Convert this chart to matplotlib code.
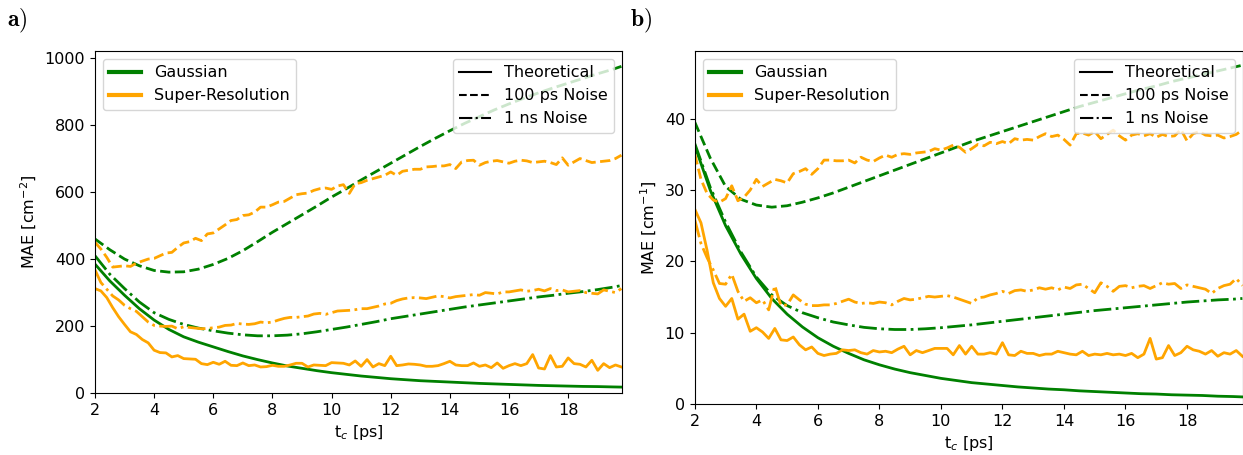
import numpy as np
import matplotlib.pyplot as plt
from matplotlib.lines import Line2D

plt.rcParams['mathtext.fontset'] = 'dejavusans'

# smooth (Gaussian) curves, read on a 0.5 ps grid
t_g = [2.0, 2.5, 3.0, 3.5, 4.0, 4.5, 5.0, 5.5, 6.0, 6.5, 7.0, 7.5, 8.0, 8.5, 9.0, 9.5,
       10.0, 10.5, 11.0, 11.5, 12.0, 12.5, 13.0, 13.5, 14.0, 14.5, 15.0, 15.5, 16.0,
       16.5, 17.0, 17.5, 18.0, 18.5, 19.0, 19.5, 19.8]

# noisy (Super-Resolution) curves, read on a 0.2 ps grid
t_sr = np.round(np.arange(2.0, 19.81, 0.2), 1)

# ---- panel a) ----
a_gauss_theo = [385, 335, 292, 252, 218, 190, 168, 152, 138, 124, 111, 100, 90, 81, 74, 67,
                61, 56, 51, 47, 43, 40, 37, 35, 33, 31, 29, 27.5, 26, 24.5, 23, 22, 21, 20,
                19.5, 18.5, 18]
a_gauss_100ps = [460, 428, 400, 380, 366, 361, 362, 370, 384, 402, 425, 452, 480, 506, 532, 558,
                 585, 610, 636, 661, 686, 711, 736, 760, 783, 805, 825, 845, 863, 880, 896,
                 911, 925, 939, 953, 966, 975]
a_gauss_1ns = [410, 355, 312, 272, 240, 220, 205, 194, 186, 179, 174, 171, 171, 173, 177, 183,
               190, 197, 205, 213, 222, 229, 236, 243, 250, 257, 263, 269, 275, 281, 287,
               292, 298, 303, 309, 316, 321]

a_sr_theo = [312, 305, 285, 255, 228, 205, 183, 175, 160, 150,
             128, 121, 120, 108, 112, 103, 102, 101, 88, 85,
             92, 86, 95, 83, 82, 90, 82, 84, 78, 79,
             83, 80, 80, 84, 89, 89, 78, 84, 83, 82,
             91, 90, 89, 84, 96, 80, 100, 78, 88, 82,
             110, 82, 84, 87, 86, 84, 80, 80, 82, 88,
             95, 84, 82, 82, 90, 80, 84, 76, 90, 74,
             82, 88, 82, 88, 115, 75, 72, 112, 78, 80,
             105, 88, 86, 78, 98, 68, 88, 76, 84, 78]
a_sr_100ps = [450, 430, 405, 376, 378, 380, 378, 388, 394, 400,
              402, 410, 418, 420, 435, 448, 452, 462, 455, 475,
              478, 490, 502, 515, 518, 530, 532, 540, 555, 555,
              562, 570, 572, 582, 592, 595, 597, 605, 610, 612,
              608, 618, 622, 596, 625, 628, 635, 640, 645, 650,
              660, 650, 662, 665, 668, 668, 675, 676, 678, 678,
              682, 670, 690, 694, 695, 680, 688, 692, 694, 690,
              686, 692, 695, 693, 688, 690, 692, 688, 682, 702,
              680, 690, 700, 694, 688, 690, 692, 694, 700, 710]
a_sr_1ns = [368, 330, 310, 290, 278, 262, 252, 244, 228, 212,
            202, 200, 199, 200, 192, 198, 196, 194, 192, 193,
            195, 197, 202, 203, 208, 206, 205, 207, 212, 210,
            212, 218, 223, 226, 226, 228, 230, 236, 238, 235,
            240, 245, 246, 247, 249, 252, 252, 256, 260, 266,
            268, 276, 281, 284, 285, 284, 282, 286, 290, 288,
            284, 288, 290, 292, 294, 292, 300, 298, 296, 302,
            302, 305, 308, 304, 306, 310, 305, 312, 306, 308,
            302, 304, 306, 300, 298, 296, 308, 304, 300, 312]

# ---- panel b) ----
b_gauss_theo = [36.2, 30.0, 25.0, 21.0, 17.6, 14.8, 12.6, 10.8, 9.3, 8.1, 7.1, 6.2, 5.5, 4.9,
                4.4, 4.0, 3.6, 3.3, 3.0, 2.8, 2.6, 2.4, 2.25, 2.1, 2.0, 1.85, 1.75, 1.65,
                1.55, 1.45, 1.4, 1.3, 1.25, 1.2, 1.1, 1.05, 1.0]
b_gauss_100ps = [39.5, 34.5, 30.5, 28.7, 27.9, 27.6, 27.8, 28.3, 28.9, 29.6, 30.4, 31.2, 32.0,
                 32.8, 33.6, 34.4, 35.2, 36.0, 36.8, 37.5, 38.2, 38.9, 39.6, 40.3, 41.0,
                 41.7, 42.3, 42.9, 43.5, 44.1, 44.6, 45.2, 45.7, 46.2, 46.7, 47.2, 47.5]
b_gauss_1ns = [36.5, 30.4, 25.5, 21.3, 17.8, 15.3, 13.8, 12.8, 12.1, 11.5, 11.1, 10.75, 10.55,
               10.45, 10.45, 10.55, 10.7, 10.9, 11.1, 11.35, 11.6, 11.85, 12.1, 12.35, 12.6,
               12.85, 13.1, 13.3, 13.5, 13.7, 13.9, 14.1, 14.3, 14.45, 14.6, 14.7, 14.8]

b_sr_theo = [27.3, 25.4, 21.5, 17.0, 14.8, 13.7, 14.8, 11.9, 12.6, 10.2,
             10.7, 10.1, 9.2, 10.6, 9.0, 8.9, 9.4, 8.3, 7.6, 8.0,
             7.1, 6.8, 7.0, 7.1, 7.6, 7.5, 7.6, 7.2, 7.0, 7.5,
             7.3, 7.4, 7.2, 7.7, 8.1, 6.9, 7.5, 7.2, 7.5, 7.8,
             7.8, 7.8, 6.9, 8.2, 7.0, 8.1, 7.0, 7.0, 7.2, 7.0,
             8.6, 6.9, 6.8, 7.4, 7.1, 7.1, 6.8, 7.0, 7.0, 7.4,
             7.2, 7.0, 6.9, 7.4, 6.8, 7.0, 6.9, 7.1, 6.9, 7.0,
             6.8, 7.1, 6.5, 7.0, 9.2, 6.3, 6.5, 8.2, 6.8, 7.2,
             8.1, 7.6, 7.4, 7.0, 7.5, 6.7, 7.2, 7.0, 7.5, 6.7]
b_sr_100ps = [35.0, 31.5, 29.5, 28.6, 28.3, 28.8, 30.6, 28.5, 29.0, 30.0,
              31.5, 30.5, 31.0, 31.5, 31.3, 31.0, 32.3, 32.6, 33.0, 32.2,
              33.0, 34.2, 34.2, 34.1, 34.1, 34.2, 33.8, 34.6, 34.2, 34.0,
              34.5, 34.9, 34.6, 35.0, 35.1, 35.0, 35.2, 35.3, 35.4, 35.8,
              35.6, 35.9, 36.3, 36.0, 35.3, 35.8, 36.4, 36.2, 36.7, 36.5,
              36.8, 36.5, 37.2, 37.0, 37.1, 37.0, 37.5, 37.9, 37.5, 37.7,
              37.1, 36.3, 37.9, 38.0, 37.7, 38.2, 37.2, 37.8, 38.4, 37.6,
              37.0, 37.7, 37.9, 37.6, 37.9, 37.4, 37.8, 37.5, 37.6, 38.5,
              36.9, 37.9, 38.2, 37.7, 37.6, 37.7, 37.3, 37.5, 37.8, 38.4]
b_sr_1ns = [25.8, 22.5, 20.5, 18.8, 16.9, 16.8, 18.2, 15.8, 14.4, 14.9,
            14.2, 14.6, 13.2, 16.6, 13.8, 13.9, 15.3, 14.6, 14.0, 13.8,
            13.8, 13.9, 13.9, 14.1, 14.4, 14.7, 14.3, 14.1, 14.2, 14.1,
            14.3, 14.2, 13.9, 14.4, 14.8, 14.6, 14.7, 14.9, 15.1, 15.0,
            15.1, 15.2, 15.0, 14.7, 14.4, 14.1, 14.9, 15.0, 15.3, 15.5,
            15.8, 15.5, 15.9, 16.0, 15.8, 16.0, 16.3, 16.1, 16.3, 16.0,
            16.4, 16.2, 16.7, 16.8, 16.2, 15.6, 17.0, 16.5, 15.8, 16.5,
            16.6, 16.3, 16.5, 16.6, 16.2, 16.6, 17.0, 16.8, 16.9, 16.2,
            16.7, 16.5, 16.3, 16.1, 15.5, 16.2, 16.6, 16.8, 17.6, 16.6]

FS = 11.5
G = 'green'
O = 'orange'

fig = plt.figure(figsize=(12.43, 4.55), dpi=100)
ax_a = fig.add_axes([0.0764, 0.136, 0.424, 0.752])
ax_b = fig.add_axes([0.559, 0.112, 0.441, 0.776])


def draw_panel(ax, g_theo, g_100, g_1ns, s_theo, s_100, s_1ns, ylab, ylim, yticks):
    ax.plot(t_g, g_theo, color=G, lw=2, ls='-')
    ax.plot(t_g, g_100, color=G, lw=2, ls='--')
    ax.plot(t_g, g_1ns, color=G, lw=2, ls='-.')
    ax.plot(t_sr, s_theo, color=O, lw=2, ls='-')
    ax.plot(t_sr, s_100, color=O, lw=2, ls='--')
    ax.plot(t_sr, s_1ns, color=O, lw=2, ls='-.')

    ax.set_xlim(2, 19.82)
    ax.set_ylim(*ylim)
    ax.set_xticks(range(2, 20, 2))
    ax.set_yticks(yticks)
    ax.tick_params(labelsize=FS)
    ax.set_xlabel(r't$_c$ [ps]', fontsize=FS)
    ax.set_ylabel(ylab, fontsize=FS)

    # two legends: method colour and noise line style
    col_handles = [Line2D([], [], color=G, lw=3), Line2D([], [], color=O, lw=3)]
    leg1 = ax.legend(col_handles, ['Gaussian', 'Super-Resolution'],
                     loc='upper left', fontsize=FS)
    ax.add_artist(leg1)
    sty_handles = [Line2D([], [], color='k', lw=1.5, ls='-'),
                   Line2D([], [], color='k', lw=1.5, ls='--'),
                   Line2D([], [], color='k', lw=1.5, ls='-.')]
    ax.legend(sty_handles, ['Theoretical', '100 ps Noise', '1 ns Noise'],
              loc='upper right', fontsize=FS)


draw_panel(ax_a, a_gauss_theo, a_gauss_100ps, a_gauss_1ns,
           a_sr_theo, a_sr_100ps, a_sr_1ns,
           r'MAE [cm$^{-2}$]', (0, 1021), range(0, 1001, 200))
draw_panel(ax_b, b_gauss_theo, b_gauss_100ps, b_gauss_1ns,
           b_sr_theo, b_sr_100ps, b_sr_1ns,
           r'MAE [cm$^{-1}$]', (0, 49.5), range(0, 41, 10))

fig.text(0.006, 0.955, r'$\mathbf{a)}$', fontsize=17, math_fontfamily='cm', va='center')
fig.text(0.507, 0.955, r'$\mathbf{b)}$', fontsize=17, math_fontfamily='cm', va='center')

fig.savefig('out.png', dpi=100)
